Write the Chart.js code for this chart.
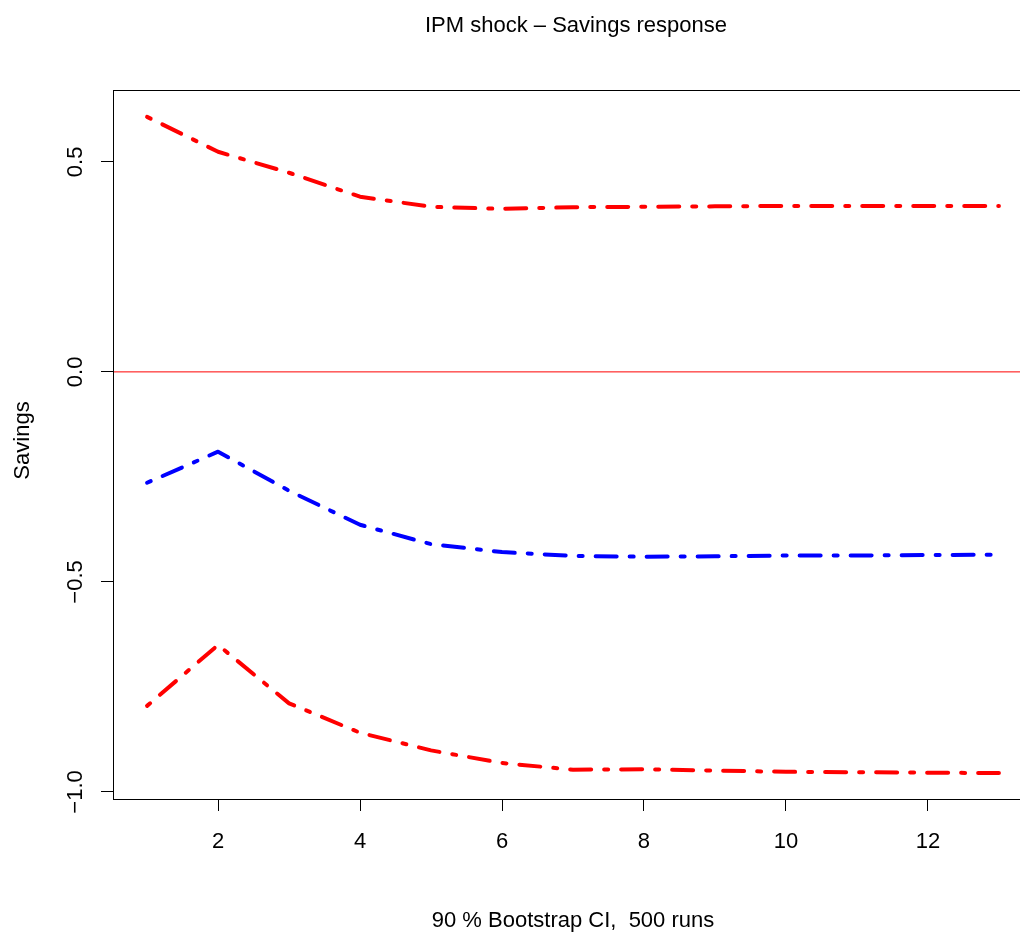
<!DOCTYPE html>
<html>
<head>
<meta charset="utf-8">
<script src="https://cdn.jsdelivr.net/npm/chart.js@4/dist/chart.umd.min.js"></script>
<style>
  html, body { margin: 0; padding: 0; background: #fff; overflow: hidden; }
  #wrap { width: 1020px; height: 932px; overflow: hidden; }
</style>
</head>
<body>
<div id="wrap"><canvas id="irf" width="1060" height="932"></canvas></div>
<script>
const steps = [1, 2, 3, 4, 5, 6, 7, 8, 9, 10, 11, 12, 13];
const upper = [0.607, 0.524, 0.474, 0.417, 0.393, 0.388, 0.392, 0.393, 0.394, 0.395, 0.395, 0.395, 0.395];
const response = [-0.264, -0.190, -0.283, -0.364, -0.410, -0.429, -0.438, -0.440, -0.439, -0.437, -0.437, -0.436, -0.435];
const lower = [-0.795, -0.650, -0.789, -0.859, -0.901, -0.931, -0.947, -0.946, -0.949, -0.952, -0.953, -0.954, -0.955];
const xTicks = [2, 4, 6, 8, 10, 12];
const yTicks = [-1.0, -0.5, 0.0, 0.5];
const yLabels = ['\u22121.0', '\u22120.5', '0.0', '0.5'];

const FONT = '"Liberation Sans", Arial, Helvetica, sans-serif';

function pts(vals) {
    return steps.map((s, i) => ({ x: s, y: vals[i] }));
}

const dotdash = [4, 13, 21, 13];

// R style box, rotated y labels and titles
const rFrame = {
    id: 'rFrame',
    afterDraw(chart) {
        const ctx = chart.ctx;
        const a = chart.chartArea;
        const xs = chart.scales.x;
        const ys = chart.scales.y;
        const mid = (a.left + a.right) / 2;
        ctx.save();
        ctx.strokeStyle = '#000';
        ctx.lineWidth = 1;
        ctx.strokeRect(Math.round(a.left) + 0.5, Math.round(a.top) + 0.5,
            Math.round(a.right - a.left), Math.round(a.bottom - a.top));

        ctx.fillStyle = '#000';
        ctx.font = '22px ' + FONT;
        ctx.textAlign = 'center';
        ctx.textBaseline = 'alphabetic';
        xTicks.forEach(v => ctx.fillText(String(v), xs.getPixelForValue(v), 848));

        yTicks.forEach((v, i) => {
            ctx.save();
            ctx.translate(82, ys.getPixelForValue(v));
            ctx.rotate(-Math.PI / 2);
            ctx.fillText(yLabels[i], 0, 0);
            ctx.restore();
        });

        ctx.fillText('IPM shock \u2013 Savings response', mid + 3, 32);
        ctx.fillText('90 % Bootstrap CI,  500 runs', mid, 927);

        ctx.save();
        ctx.translate(29, (a.top + a.bottom) / 2 - 4);
        ctx.rotate(-Math.PI / 2);
        ctx.fillText('Savings', 0, 0);
        ctx.restore();
        ctx.restore();
    }
};

new Chart(document.getElementById('irf'), {
    type: 'line',
    data: {
        datasets: [
            {
                data: [{ x: 0.52, y: 0 }, { x: 13.48, y: 0 }],
                borderColor: '#FF0000',
                borderWidth: 1,
                pointRadius: 0
            },
            {
                data: pts(upper),
                borderColor: '#FF0000',
                borderWidth: 4,
                borderDash: dotdash,
                borderCapStyle: 'round',
                borderJoinStyle: 'round',
                pointRadius: 0
            },
            {
                data: pts(response),
                borderColor: '#0000FF',
                borderWidth: 4,
                borderDash: dotdash,
                borderCapStyle: 'round',
                borderJoinStyle: 'round',
                pointRadius: 0
            },
            {
                data: pts(lower),
                borderColor: '#FF0000',
                borderWidth: 4,
                borderDash: dotdash,
                borderCapStyle: 'round',
                borderJoinStyle: 'round',
                pointRadius: 0
            }
        ]
    },
    options: {
        responsive: false,
        animation: false,
        events: [],
        layout: { padding: { left: 0, right: 27, top: 90, bottom: 0 } },
        plugins: {
            legend: { display: false },
            tooltip: { enabled: false }
        },
        elements: { line: { tension: 0 } },
        scales: {
            x: {
                type: 'linear',
                min: 0.52,
                max: 13.48,
                afterBuildTicks: (s) => { s.ticks = xTicks.map(v => ({ value: v })); },
                afterFit: (s) => { s.height = 133; },
                ticks: { display: false },
                grid: { display: true, drawOnChartArea: false, drawTicks: true, tickLength: 12, color: '#000', lineWidth: 1 },
                border: { display: true, color: '#000', width: 1 }
            },
            y: {
                type: 'linear',
                min: -1.0167,
                max: 0.671,
                afterBuildTicks: (s) => { s.ticks = yTicks.map(v => ({ value: v })); },
                afterFit: (s) => { s.width = 113; },
                ticks: { display: false },
                grid: { display: true, drawOnChartArea: false, drawTicks: true, tickLength: 12, color: '#000', lineWidth: 1 },
                border: { display: true, color: '#000', width: 1 }
            }
        }
    },
    plugins: [rFrame]
});
</script>
</body>
</html>
